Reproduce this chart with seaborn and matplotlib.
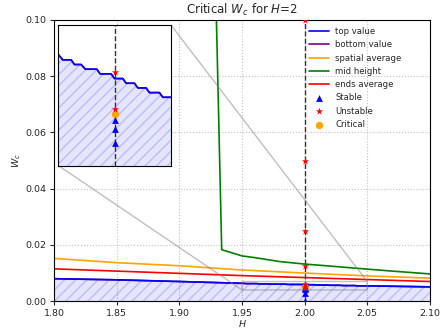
import matplotlib
matplotlib.use("Agg")
import matplotlib.pyplot as plt
import seaborn as sns

sns.set_style("ticks", {"axes.grid": True, "grid.linestyle": ":", "grid.color": "#c0c0c0",
                        "axes.edgecolor": "black"})
plt.rcParams["font.family"] = ["DejaVu Sans"]

# top value (stepped near H=2)
top_H = [1.80, 1.85, 1.90, 1.9504, 1.9539, 1.9613, 1.9642, 1.9701, 1.9740, 1.9841, 1.9870,
         1.9968, 1.9997, 2.0071, 2.0101, 2.0174, 2.0205, 2.0278, 2.0307, 2.0396, 2.0426,
         2.05, 2.10]
top_W = [0.0080, 0.0076, 0.0070, 0.00636, 0.00626, 0.00626, 0.00616, 0.00616, 0.00606,
         0.00606, 0.00596, 0.00596, 0.00586, 0.00586, 0.00576, 0.00576, 0.00566, 0.00566,
         0.00556, 0.00556, 0.00546, 0.00546, 0.0051]

avg_H = [1.80, 1.85, 1.90, 1.95, 2.00, 2.05, 2.10]
spatial_W = [0.0152, 0.0137, 0.0126, 0.0111, 0.0100, 0.0090, 0.0082]
ends_W = [0.0115, 0.0107, 0.0099, 0.0091, 0.0084, 0.0077, 0.0070]

mid_H = [1.927, 1.9338, 1.95, 1.96, 1.98, 2.00, 2.02, 2.05, 2.07, 2.10]
mid_W = [0.15, 0.0183, 0.0161, 0.0155, 0.0141, 0.0132, 0.0125, 0.0114, 0.0107, 0.0097]

H_test = 2.0
unstable_W = [0.1, 0.05, 0.025, 0.0125, 0.0060, 0.0052]
stable_W = [0.0, 0.00285, 0.00449, 0.00478, 0.00498]
critical_W = [0.0051]


def draw(ax, legend):
    lab = (lambda s: s) if legend else (lambda s: None)
    ax.fill_between(top_H, 0, top_W, facecolor=(0, 0, 1, 0.1), edgecolor=(0, 0, 1, 0.18),
                    hatch="///", linewidth=0)
    sns.lineplot(x=top_H, y=top_W, ax=ax, color="purple", label=lab("bottom value"),
                 estimator=None, sort=False, lw=1.2)
    sns.lineplot(x=top_H, y=top_W, ax=ax, color="blue", label=lab("top value"),
                 estimator=None, sort=False, lw=1.2)
    sns.lineplot(x=avg_H, y=spatial_W, ax=ax, color="orange", label=lab("spatial average"),
                 estimator=None, sort=False, lw=1.2)
    sns.lineplot(x=mid_H, y=mid_W, ax=ax, color="green", label=lab("mid height"),
                 estimator=None, sort=False, lw=1.2)
    sns.lineplot(x=avg_H, y=ends_W, ax=ax, color="red", label=lab("ends average"),
                 estimator=None, sort=False, lw=1.2)
    ax.axvline(H_test, color="#333333", ls="--", lw=1)
    sns.scatterplot(x=[H_test] * len(critical_W), y=critical_W, ax=ax, color="orange",
                    marker="o", s=28, linewidth=0, label=lab("Critical"), zorder=3)
    sns.scatterplot(x=[H_test] * len(stable_W), y=stable_W, ax=ax, color="blue",
                    marker="^", s=24, linewidth=0, label=lab("Stable"), zorder=4)
    sns.scatterplot(x=[H_test] * len(unstable_W), y=unstable_W, ax=ax, color="red",
                    marker="*", s=30, linewidth=0, label=lab("Unstable"), zorder=4)


fig, ax = plt.subplots(figsize=(4.4, 3.31), dpi=100)
fig.subplots_adjust(left=0.123, right=0.977, bottom=0.09, top=0.94)
draw(ax, True)
ax.set_xlim(1.8, 2.1)
ax.set_ylim(0, 0.1)
ax.set_xticks([1.80, 1.85, 1.90, 1.95, 2.00, 2.05, 2.10])
ax.set_yticks([0.0, 0.02, 0.04, 0.06, 0.08, 0.10])
ax.xaxis.set_major_formatter(matplotlib.ticker.FormatStrFormatter("%.2f"))
ax.yaxis.set_major_formatter(matplotlib.ticker.FormatStrFormatter("%.2f"))
ax.tick_params(labelsize=6.8, length=3, pad=2.5)
ax.set_xlabel("$H$", fontsize=6.8, labelpad=0)
ax.set_ylabel("$W_c$", fontsize=6.8, labelpad=2)
ax.set_title("Critical $W_c$ for $H$=2", fontsize=8.5, pad=4)

handles, labels = ax.get_legend_handles_labels()
order = ["top value", "bottom value", "spatial average", "mid height", "ends average",
         "Stable", "Unstable", "Critical"]
hmap = dict(zip(labels, handles))
ax.legend([hmap[k] for k in order], order, loc="upper left", bbox_to_anchor=(0.663, 0.995),
          frameon=False, fontsize=6.1, handlelength=2.3, labelspacing=0.5,
          borderaxespad=0.3)

axins = ax.inset_axes([0.0114, 0.482, 0.3, 0.499])
draw(axins, False)
axins.set_xlim(1.95, 2.05)
axins.set_ylim(0.004, 0.007)
axins.set_xticks([])
axins.set_yticks([])
axins.grid(False)
for s in axins.spines.values():
    s.set_color("black")
ax.indicate_inset_zoom(axins, edgecolor="gray")

fig.savefig("out.png", dpi=100)
